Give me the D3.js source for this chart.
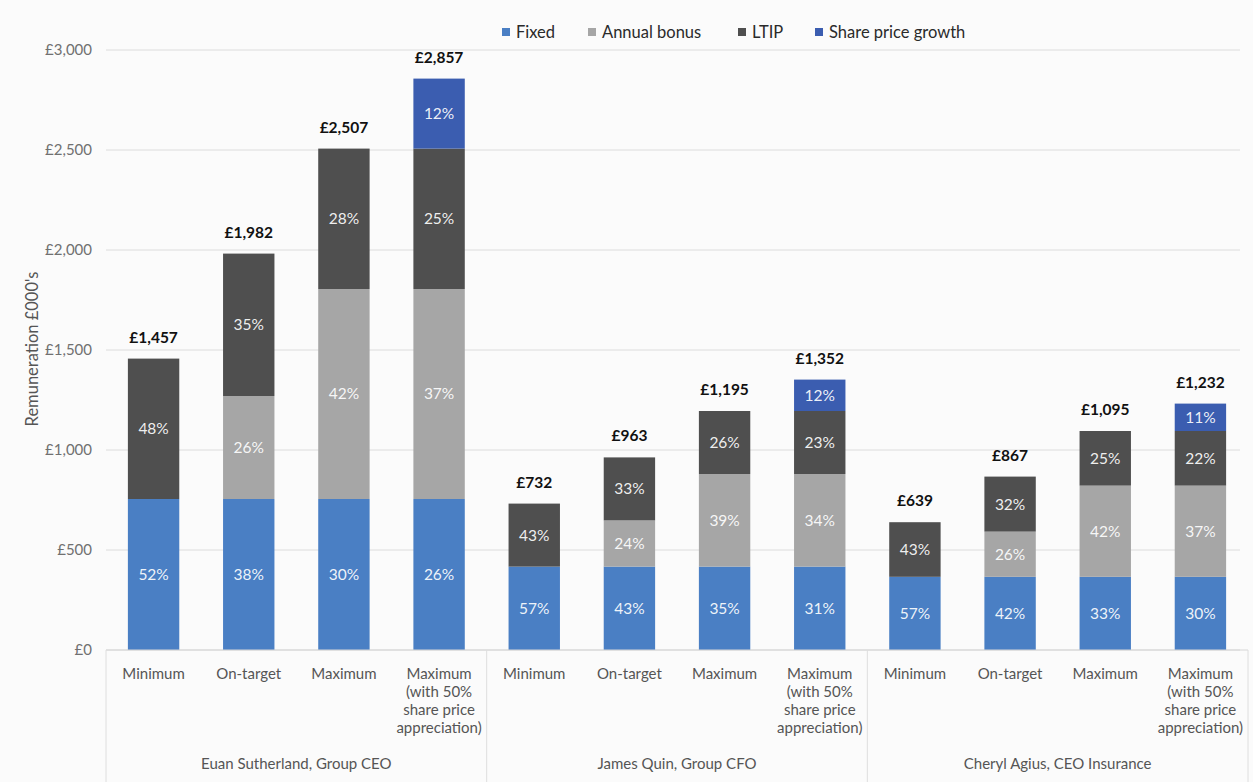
<!DOCTYPE html>
<html>
<head>
<meta charset="utf-8">
<script src="https://cdn.jsdelivr.net/npm/d3@7"></script>
<style>
  body { margin: 0; background: #fbfbfb; }
  svg { font-family: Lato, "Open Sans", sans-serif; }
</style>
</head>
<body>
<div id="graph-area"></div>
<script>
var executives = ["Euan Sutherland, Group CEO", "James Quin, Group CFO", "Cheryl Agius, CEO Insurance"];
var scenarios = ["Minimum", "On-target", "Maximum", "Maximum\n(with 50%\nshare price\nappreciation)"];
var seriesNames = ["Fixed", "Annual bonus", "LTIP", "Share price growth"];

// values in £000's, one per bar (executive x scenario)
var fixed  = [755, 755, 755, 755, 417, 417, 417, 417, 366, 366, 366, 366];
var bonus  = [0, 515, 1050, 1050, 0, 231, 463, 463, 0, 226, 456, 456];
var ltip   = [702, 712, 702, 702, 315, 315, 315, 315, 273, 275, 273, 273];
var growth = [0, 0, 0, 350, 0, 0, 0, 157, 0, 0, 0, 137];

// percentage labels as printed in the segments
var fixedPct  = [52, 38, 30, 26, 57, 43, 35, 31, 57, 42, 33, 30];
var bonusPct  = [null, 26, 42, 37, null, 24, 39, 34, null, 26, 42, 37];
var ltipPct   = [48, 35, 28, 25, 43, 33, 26, 23, 43, 32, 25, 22];
var growthPct = [null, null, null, 12, null, null, null, 12, null, null, null, 11];

var yTicks = [0, 500, 1000, 1500, 2000, 2500, 3000];

var W = 1253, H = 782,
    margin = {left: 106, right: 1248, top: 50, bottom: 650};

var svg = d3.select("#graph-area").append("svg")
    .attr("width", W)
    .attr("height", H);

var color = d3.scaleOrdinal()
    .domain(seriesNames)
    .range(["#4a7fc4", "#a6a6a6", "#4f4f4f", "#3b5db0"]);

var keys = [];
executives.forEach(function(e) {
    scenarios.forEach(function(s) { keys.push(e + "|" + s); });
});

var rows = keys.map(function(k, i) {
    return {
        key: k,
        "Fixed": fixed[i],
        "Annual bonus": bonus[i],
        "LTIP": ltip[i],
        "Share price growth": growth[i],
        pct: [fixedPct[i], bonusPct[i], ltipPct[i], growthPct[i]]
    };
});

var x = d3.scaleBand()
    .domain(keys)
    .range([margin.left, margin.right])
    .paddingInner(0.46)
    .paddingOuter(0.23);

var y = d3.scaleLinear()
    .domain([0, 3000])
    .range([margin.bottom, margin.top]);

// gridlines
svg.append("g")
    .selectAll("line")
    .data(yTicks)
    .enter().append("line")
    .attr("x1", margin.left)
    .attr("x2", margin.right - 8)
    .attr("y1", function(d) { return y(d); })
    .attr("y2", function(d) { return y(d); })
    .attr("stroke", "#dcdcdc")
    .attr("stroke-width", 1);

// y axis labels
var yAxis = d3.axisLeft(y)
    .tickValues(yTicks)
    .tickSize(0)
    .tickPadding(0)
    .tickFormat(function(d) { return "£" + d3.format(",")(d); });

svg.append("g")
    .attr("transform", "translate(92,0)")
    .call(yAxis)
    .call(function(g) { g.select(".domain").remove(); })
    .selectAll("text")
    .attr("font-size", "15px")
    .attr("font-family", "Lato, sans-serif")
    .attr("fill", "#707070");

svg.append("text")
    .attr("transform", "translate(38,349) rotate(-90)")
    .attr("text-anchor", "middle")
    .attr("font-size", "16.5px")
    .attr("fill", "#555")
    .text("Remuneration £000's");

// stacked bars
var stack = d3.stack().keys(seriesNames);
var stacked = stack(rows);

var layers = svg.append("g").selectAll("g")
    .data(stacked)
    .enter().append("g")
    .attr("fill", function(d) { return color(d.key); });

layers.selectAll("rect")
    .data(function(d) { return d; })
    .enter().append("rect")
    .attr("x", function(d) { return x(d.data.key); })
    .attr("y", function(d) { return y(d[1]); })
    .attr("width", x.bandwidth())
    .attr("height", function(d) { return y(d[0]) - y(d[1]); });

// percentage labels
stacked.forEach(function(layer, li) {
    svg.append("g").selectAll("text")
        .data(layer.filter(function(d) { return d.data.pct[li] != null && d[1] > d[0]; }))
        .enter().append("text")
        .attr("x", function(d) { return x(d.data.key) + x.bandwidth() / 2; })
        .attr("y", function(d) { return (y(d[0]) + y(d[1])) / 2; })
        .attr("dy", "0.35em")
        .attr("text-anchor", "middle")
        .attr("font-size", "15.5px")
        .attr("fill", "#fff")
        .attr("fill-opacity", 0.92)
        .text(function(d) { return d.data.pct[li] + "%"; });
});

// totals
svg.append("g").selectAll("text")
    .data(rows)
    .enter().append("text")
    .attr("x", function(d) { return x(d.key) + x.bandwidth() / 2; })
    .attr("y", function(d) {
        return y(d["Fixed"] + d["Annual bonus"] + d["LTIP"] + d["Share price growth"]) - 16;
    })
    .attr("text-anchor", "middle")
    .attr("font-size", "15.5px")
    .attr("font-weight", "bold")
    .attr("fill", "#111")
    .text(function(d) {
        return "£" + d3.format(",")(d["Fixed"] + d["Annual bonus"] + d["LTIP"] + d["Share price growth"]);
    });

// x axis line and group separators
svg.append("line")
    .attr("x1", margin.left).attr("x2", margin.right)
    .attr("y1", margin.bottom).attr("y2", margin.bottom)
    .attr("stroke", "#d6d6d6");

var step = x.step();
var groupEdges = [0, 4, 8, 12].map(function(i) {
    return i < 12 ? x(keys[i]) - x.paddingInner() * step / 2 : x(keys[11]) + x.bandwidth() + x.paddingInner() * step / 2;
});

svg.append("g").selectAll("line")
    .data(groupEdges)
    .enter().append("line")
    .attr("x1", function(d) { return d; })
    .attr("x2", function(d) { return d; })
    .attr("y1", margin.bottom)
    .attr("y2", 782)
    .attr("stroke", "#dedede");

// category labels
var cat = svg.append("g").selectAll("text")
    .data(keys)
    .enter().append("text")
    .attr("x", function(d) { return x(d) + x.bandwidth() / 2; })
    .attr("y", 679)
    .attr("text-anchor", "middle")
    .attr("font-size", "15px")
    .attr("fill", "#555");

cat.each(function(d) {
    var lines = d.split("|")[1].split("\n");
    var t = d3.select(this);
    lines.forEach(function(l, i) {
        t.append("tspan")
            .attr("x", x(d) + x.bandwidth() / 2)
            .attr("dy", i === 0 ? 0 : 18)
            .text(l);
    });
});

// group labels
svg.append("g").selectAll("text")
    .data(executives)
    .enter().append("text")
    .attr("x", function(d, i) { return (groupEdges[i] + groupEdges[i + 1]) / 2; })
    .attr("y", 769)
    .attr("text-anchor", "middle")
    .attr("font-size", "15px")
    .attr("fill", "#555")
    .text(function(d) { return d; });

// legend
var legendX = [502, 588, 738, 815];
var legend = svg.append("g").selectAll("g")
    .data(seriesNames)
    .enter().append("g")
    .attr("transform", function(d, i) { return "translate(" + legendX[i] + ",32)"; });

legend.append("rect")
    .attr("x", 0).attr("y", -4)
    .attr("width", 8).attr("height", 8)
    .attr("fill", function(d) { return color(d); });

legend.append("text")
    .attr("x", 14)
    .attr("dy", "0.35em")
    .attr("font-size", "16.5px")
    .attr("fill", "#2a2a2a")
    .text(function(d) { return d; });
</script>
</body>
</html>
